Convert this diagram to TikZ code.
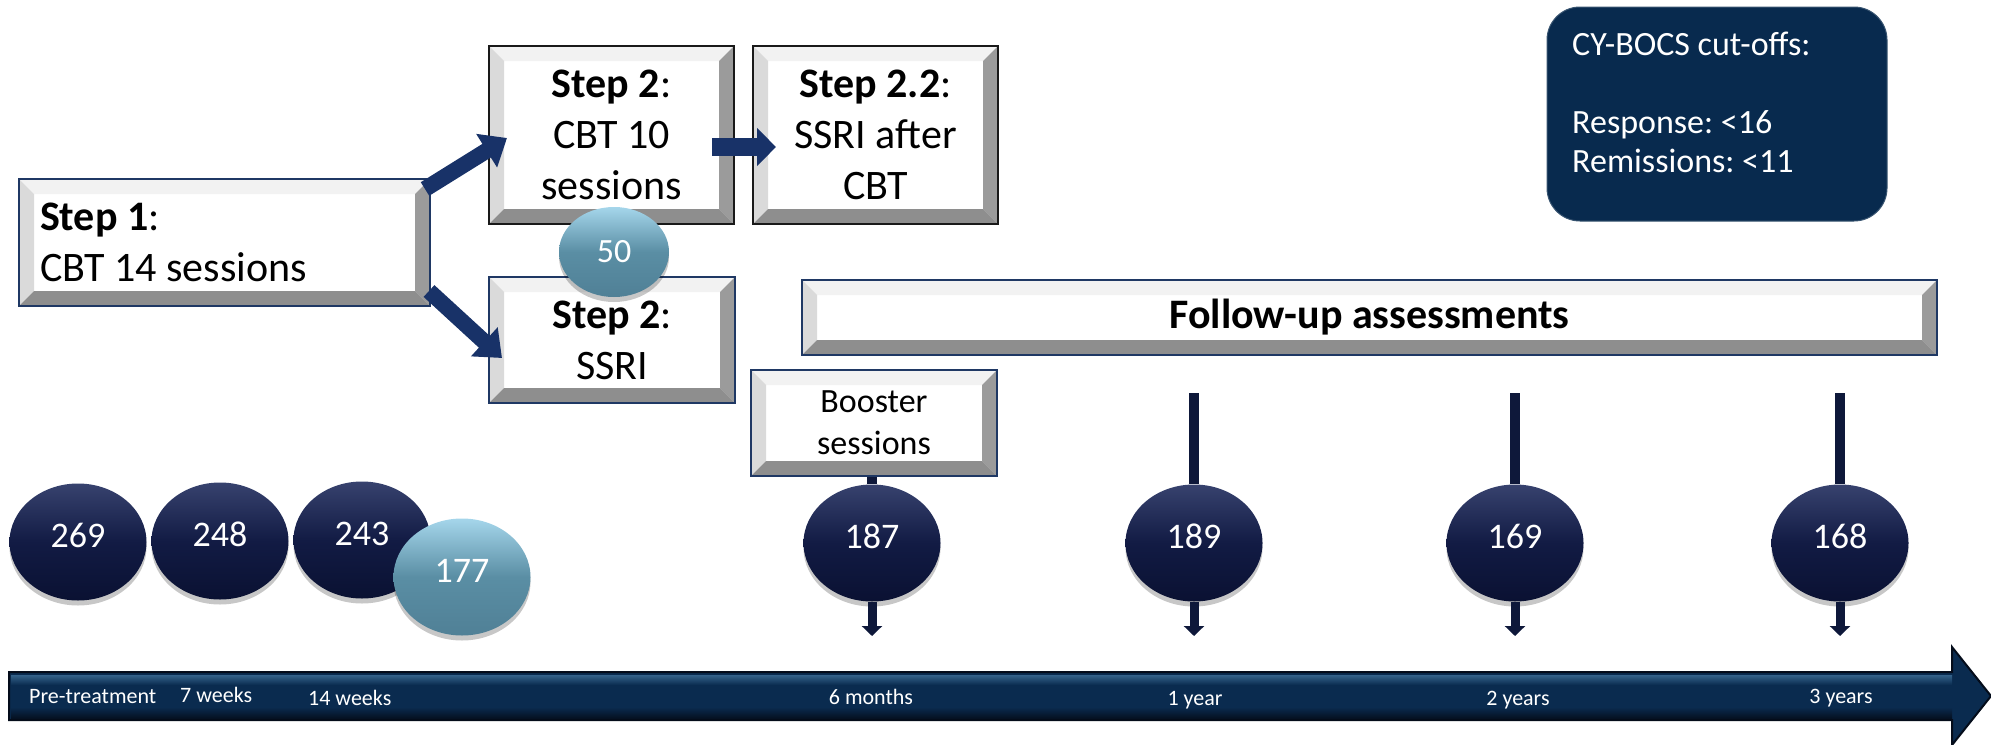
\documentclass[tikz,border=0pt]{standalone}
\usepackage{fontspec}
\setmainfont{Carlito}
\frenchspacing
\usetikzlibrary{arrows.meta,shapes.geometric}
\definecolor{navyarrow}{RGB}{24,50,104}
\definecolor{vlinecol}{RGB}{14,24,58}
\definecolor{bordblue}{RGB}{31,56,100}
\definecolor{bordblack}{RGB}{25,25,25}
\definecolor{bevtop}{RGB}{242,242,242}
\definecolor{bevleft}{RGB}{218,218,218}
\definecolor{bevright}{RGB}{155,155,155}
\definecolor{bevbot}{RGB}{142,142,142}
\definecolor{balltop}{RGB}{55,66,110}
\definecolor{ballmid}{RGB}{18,27,68}
\definecolor{ballbot}{RGB}{10,17,50}
\definecolor{tealtop}{RGB}{165,214,235}
\definecolor{tealmid}{RGB}{90,142,164}
\definecolor{tealbot}{RGB}{80,128,150}
\definecolor{cyfill}{RGB}{8,42,78}
\definecolor{barmain}{RGB}{10,43,79}
\definecolor{barlight}{RGB}{52,98,138}
\definecolor{bardark}{RGB}{4,12,26}
\def\bw{15pt}
\tikzset{
  bev/.style={draw=#1, line width=2pt, fill=white, inner sep=0pt, align=flush center,
    font=\fontsize{42}{51}\selectfont,
    path picture={
      \fill[bevtop] (path picture bounding box.north west) -- (path picture bounding box.north east)
        -- ([shift={(-\bw,-\bw)}]path picture bounding box.north east)
        -- ([shift={(\bw,-\bw)}]path picture bounding box.north west) -- cycle;
      \fill[bevleft] (path picture bounding box.north west) -- (path picture bounding box.south west)
        -- ([shift={(\bw,\bw)}]path picture bounding box.south west)
        -- ([shift={(\bw,-\bw)}]path picture bounding box.north west) -- cycle;
      \fill[bevright] (path picture bounding box.north east) -- (path picture bounding box.south east)
        -- ([shift={(-\bw,\bw)}]path picture bounding box.south east)
        -- ([shift={(-\bw,-\bw)}]path picture bounding box.north east) -- cycle;
      \fill[bevbot] (path picture bounding box.south west) -- (path picture bounding box.south east)
        -- ([shift={(-\bw,\bw)}]path picture bounding box.south east)
        -- ([shift={(\bw,\bw)}]path picture bounding box.south west) -- cycle;
    }},
  ball/.style={ellipse, inner sep=0pt, minimum width=137pt, minimum height=117pt,
    text=white, font=\fontsize{36}{42}\selectfont, text height=22pt, text depth=12pt,
    preaction={fill=black, fill opacity=0.22, transform canvas={yshift=-5pt}}},
  darkball/.style={ball, top color=balltop, bottom color=ballbot, middle color=ballmid},
  tealball/.style={ball, top color=tealtop, bottom color=tealbot, middle color=tealmid},
  fatarrow/.style={navyarrow, line width=16pt, -{Triangle[width=38pt,length=24pt]}},
  vline/.style={vlinecol, line width=10pt},
  varrow/.style={vlinecol, line width=9pt, -{Triangle[width=20pt,length=10pt]}},
  tlabel/.style={text=white, font=\fontsize{22}{26}\selectfont, inner sep=0pt, anchor=base},
  cytext/.style={text=white, font=\fontsize{34}{39}\selectfont, inner sep=0pt, anchor=base west}
}
\begin{document}
\begin{tikzpicture}[x=1pt,y=-1pt]
\useasboundingbox (0,0) rectangle (1991,744);

% timeline arrow
\fill[barmain] (9,672) -- (1952,672) -- (1952,647) -- (1991,696) -- (1952,745) -- (1952,720) -- (9,720) -- cycle;
\shade[top color=barlight, bottom color=barmain] (11,675) rectangle (1952,685);
\shade[top color=barmain, bottom color=bardark] (11,707) rectangle (1952,720);
\draw[bardark, line width=2pt, line join=miter] (9,672) -- (1952,672) -- (1952,647) -- (1991,696) -- (1952,745) -- (1952,720) -- (9,720) -- cycle;

% timeline labels
\node[tlabel, anchor=base west] (lpre) at (29,703) {Pre-treatment};
\node[tlabel, anchor=base west] (l7w) at (180,702) {7 weeks};
\node[tlabel, anchor=base west] (l14w) at (308,705) {14 weeks};
\node[tlabel] (l6m) at (871,704) {6 months};
\node[tlabel] (l1y) at (1195,705) {1 year};
\node[tlabel] (l2y) at (1518,705) {2 years};
\node[tlabel] (l3y) at (1841,703) {3 years};

% boxes
\node[bev=bordblue, minimum width=411pt, minimum height=127pt, text width=369pt, align=flush left]
  (step1) at (224.5,242.5) {\textbf{Step 1}:\\CBT 14 sessions};
\node[bev=bordblack, minimum width=245pt, minimum height=178pt] (s2a) at (611.5,135)
  {\textbf{Step 2}:\\CBT 10\\sessions};
\node[bev=bordblack, minimum width=245pt, minimum height=178pt] (s22) at (875.5,135)
  {\textbf{Step 2.2}:\\SSRI after\\CBT};
\node[bev=bordblue, minimum width=246pt, minimum height=126pt] (s2b) at (612,340)
  {\textbf{Step 2}:\\SSRI};
\node[bev=bordblue, minimum width=1135pt, minimum height=75pt] (fu) at (1369.5,317.5)
  {\textbf{Follow-up assessments}};
\node[bev=bordblue, minimum width=246pt, minimum height=106pt, font=\fontsize{34}{42}\selectfont]
  (boost) at (874,423) {Booster\\sessions};

% CY-BOCS box
\node[fill=cyfill, draw=cyfill!80!white, line width=1pt, rounded corners=33pt,
  minimum width=340pt, minimum height=214pt] (cybox) at (1717,114) {};
\node[cytext] (cy1) at (1572,55) {CY-BOCS cut-offs:};
\node[cytext] (cy2) at (1572,133) {Response: <16};
\node[cytext] (cy3) at (1572,172) {Remissions: <11};

% arrows between steps
\draw[fatarrow] ([shift={(-6pt,-11pt)}]step1.north east) -- ([shift={(19pt,-3pt)}]s2a.west);
\draw[fatarrow] ([shift={(-2pt,16pt)}]step1.south east) -- ([shift={(14pt,-18pt)}]s2b.west);
\draw[navyarrow, line width=18pt, -{Triangle[width=37pt,length=19pt]}]
  ([shift={(-23pt,-12pt)}]s2a.east) -- ([shift={(24pt,-12pt)}]s22.west);

% 50 ellipse
\node[tealball, minimum width=110pt, minimum height=90pt, font=\fontsize{34}{40}\selectfont,
  text height=21pt, text depth=0pt] (e50) at (614,252) {50};

% count ellipses
\node[darkball] (e269) at (78,542) {269};
\node[darkball] (e248) at (220,541) {248};
\node[darkball] (e243) at (362,540) {243};
\node[tealball, text height=20pt, text depth=10pt] (e177) at (462,577) {177};
\node[darkball] (e187) at (872,543) {187};
\node[darkball] (e189) at (1194,543) {189};
\node[darkball] (e169) at (1515,543) {169};
\node[darkball] (e168) at (1840,543) {168};

% vertical connectors
\coordinate (t189) at (1194,393);
\coordinate (t169) at (1515,393);
\coordinate (t168) at (1840,393);
\draw[vline] (boost.south -| e187.north) -- (e187.north);
\draw[vline] (t189) -- (e189.north);
\draw[vline] (t169) -- (e169.north);
\draw[vline] (t168) -- (e168.north);

\coordinate (b187) at (872,636);
\coordinate (b189) at (1194,636);
\coordinate (b169) at (1515,636);
\coordinate (b168) at (1840,636);
\draw[varrow] (e187.south) -- (b187);
\draw[varrow] (e189.south) -- (b189);
\draw[varrow] (e169.south) -- (b169);
\draw[varrow] (e168.south) -- (b168);
\end{tikzpicture}
\end{document}
